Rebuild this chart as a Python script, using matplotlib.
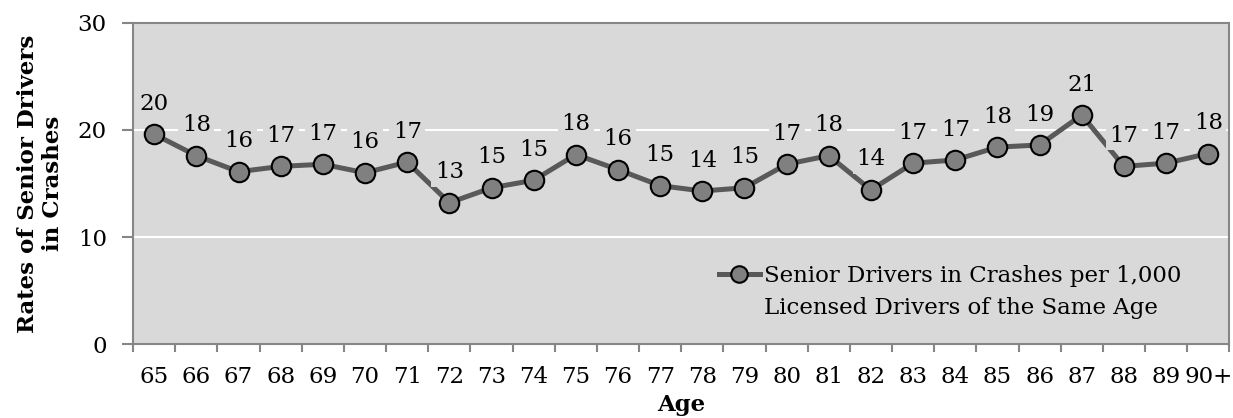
import matplotlib
matplotlib.use("Agg")
import matplotlib.pyplot as plt
from matplotlib.lines import Line2D

# ── Data ──────────────────────────────────────────────────────────────────────
ages = ['65', '66', '67', '68', '69', '70', '71', '72', '73', '74', '75', '76', '77',
        '78', '79', '80', '81', '82', '83', '84', '85', '86', '87', '88', '89', '90+']
rates = [19.6, 17.6, 16.1, 16.6, 16.8, 16.0, 17.0, 13.2, 14.6, 15.3, 17.7, 16.3, 14.8,
         14.3, 14.6, 16.8, 17.6, 14.4, 16.9, 17.2, 18.4, 18.6, 21.4, 16.6, 16.9, 17.8]
labels = [20, 18, 16, 17, 17, 16, 17, 13, 15, 15, 18, 16, 15,
          14, 15, 17, 18, 14, 17, 17, 18, 19, 21, 17, 17, 18]
series_name = ['Senior Drivers in Crashes per 1,000', 'Licensed Drivers of the Same Age']

plt.rcParams['font.family'] = ['DejaVu Serif']
FS = 16.5
BG = '#d9d9d9'
AXC = '#868686'

fig = plt.figure(figsize=(12.33, 4.18), dpi=100)
ax = fig.add_axes([0.108, 0.177, 0.889, 0.768])
ax.set_facecolor(BG)

x = list(range(len(ages)))
line, = ax.plot(x, rates, '-o', color='#595959', lw=3.6, ms=14,
                mfc='#808080', mec='black', mew=1.5, zorder=3)

for xi, yi, lab in zip(x, rates, labels):
    ax.annotate(str(lab), (xi, yi), xytext=(0, 14), textcoords='offset points',
                ha='center', va='bottom', fontsize=FS, zorder=4,
                bbox=dict(boxstyle='square,pad=0.15', fc=BG, ec='none'))

ax.set_xlim(-0.5, len(ages) - 0.5)
ax.set_ylim(0, 30)
ax.set_yticks([0, 10, 20, 30])
ax.set_xticks(x)
ax.set_xticklabels(ages)
ax.set_xticks([i - 0.5 for i in range(len(ages) + 1)], minor=True)

# gridlines
ax.grid(axis='y', color='white', lw=1.5, zorder=1)
ax.set_axisbelow(True)

for s in ax.spines.values():
    s.set_color(AXC)
    s.set_linewidth(1.5)

ax.tick_params(axis='y', length=8, width=1.5, color=AXC, labelsize=FS, pad=11)
ax.tick_params(axis='x', which='major', length=0, labelsize=FS, pad=16)
ax.tick_params(axis='x', which='minor', length=6, width=1.5, color=AXC)

ax.set_xlabel('Age', fontsize=FS, fontweight='bold', labelpad=4)
ax.set_ylabel('Rates of Senior Drivers\nin Crashes', fontsize=FS, fontweight='bold',
              labelpad=10, linespacing=1.15)

# legend: handle sits next to the first line of the two-line label
blank = Line2D([], [], alpha=0)
ax.legend([line, blank], series_name, loc='center left', bbox_to_anchor=(0.534, 0.162),
          frameon=False, fontsize=FS, borderpad=0, borderaxespad=0,
          handlelength=1.8, handletextpad=0.2, labelspacing=0.45, markerscale=0.85)

fig.savefig('out.png', dpi=100)
